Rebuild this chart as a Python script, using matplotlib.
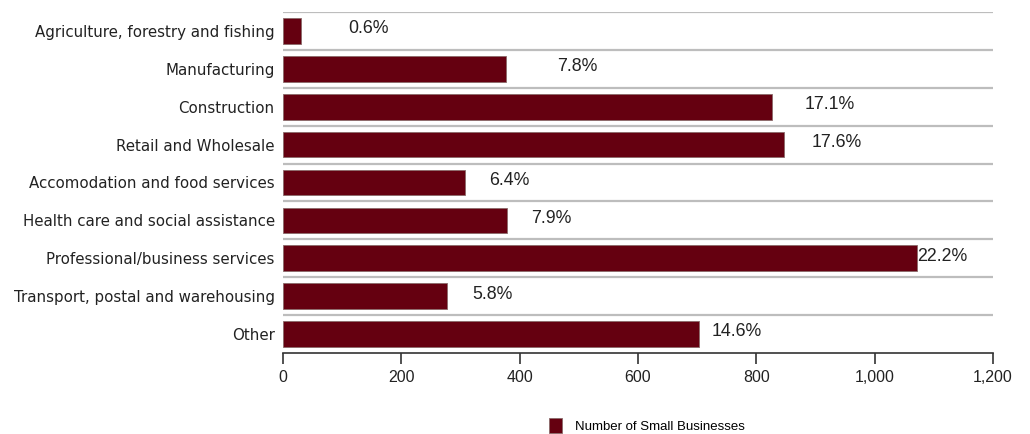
import numpy as np
import matplotlib.pyplot as plt
from matplotlib import font_manager
from matplotlib.ticker import FuncFormatter, FixedLocator

categories = [
    "Agriculture, forestry and fishing",
    "Manufacturing",
    "Construction",
    "Retail and Wholesale",
    "Accomodation and food services",
    "Health care and social assistance",
    "Professional/business services",
    "Transport, postal and warehousing",
    "Other",
]
businesses = [30, 377, 826, 847, 308, 379, 1071, 277, 703]
share_labels = ["0.6%", "7.8%", "17.1%", "17.6%", "6.4%", "7.9%", "22.2%", "5.8%", "14.6%"]
series_name = "Number of Small Businesses"

# gap (points) between bar end and its percentage label
label_pad = [34, 37, 24, 20, 17, 17, 0.5, 18, 9]

bar_color = "#650010"
grid_color = "#bdbdbd"

names = {f.name for f in font_manager.fontManager.ttflist}
narrow = "Liberation Sans Narrow" if "Liberation Sans Narrow" in names else "Liberation Sans"

fig = plt.figure(figsize=(10.30, 4.34), dpi=100)
ax = fig.add_axes([0.2748, 0.1866, 0.6893, 0.7858])

y = np.arange(len(categories))
bars = ax.barh(y, businesses, height=0.68, color=bar_color, edgecolor="#8a6a6a",
               linewidth=0.6, label=series_name, zorder=3)

for rect, txt, pad in zip(bars, share_labels, label_pad):
    ax.annotate(txt, xy=(rect.get_width(), rect.get_y() + rect.get_height() / 2),
                xytext=(pad, 1.5), textcoords="offset points", va="center", ha="left",
                fontsize=12.8, family="Liberation Sans", color="#222222")

ax.set_ylim(len(categories) - 0.5, -0.5)
ax.set_xlim(0, 1200)
ax.set_yticks(y)
ax.set_yticklabels(categories, fontsize=10.8, family="DejaVu Sans", color="#222222")
ax.tick_params(axis="y", length=0, pad=6)

ax.set_xticks(np.arange(0, 1201, 200))
ax.xaxis.set_major_formatter(FuncFormatter(lambda v, p: f"{int(v):,}"))
ax.tick_params(axis="x", length=8, width=1.2, color="#333333", labelsize=11.5,
               labelcolor="#222222", pad=4)
for lab in ax.get_xticklabels():
    lab.set_family(narrow)

# separators between categories
ax.yaxis.set_minor_locator(FixedLocator(np.arange(-0.5, len(categories) - 0.5, 1)))
ax.tick_params(axis="y", which="minor", length=0)
ax.grid(axis="y", which="minor", color=grid_color, linewidth=1.6, zorder=0)

for side in ["left", "right", "top"]:
    ax.spines[side].set_visible(False)
ax.spines["bottom"].set_color("#333333")
ax.spines["bottom"].set_linewidth(1.2)

leg = fig.legend(handles=[bars], labels=[series_name], loc="lower center",
                 bbox_to_anchor=(0.628, -0.025), frameon=False, handlelength=1.0,
                 handleheight=1.4, handletextpad=1.0,
                 prop={"family": narrow, "size": 9.5})

fig.savefig("out.png", dpi=100)
